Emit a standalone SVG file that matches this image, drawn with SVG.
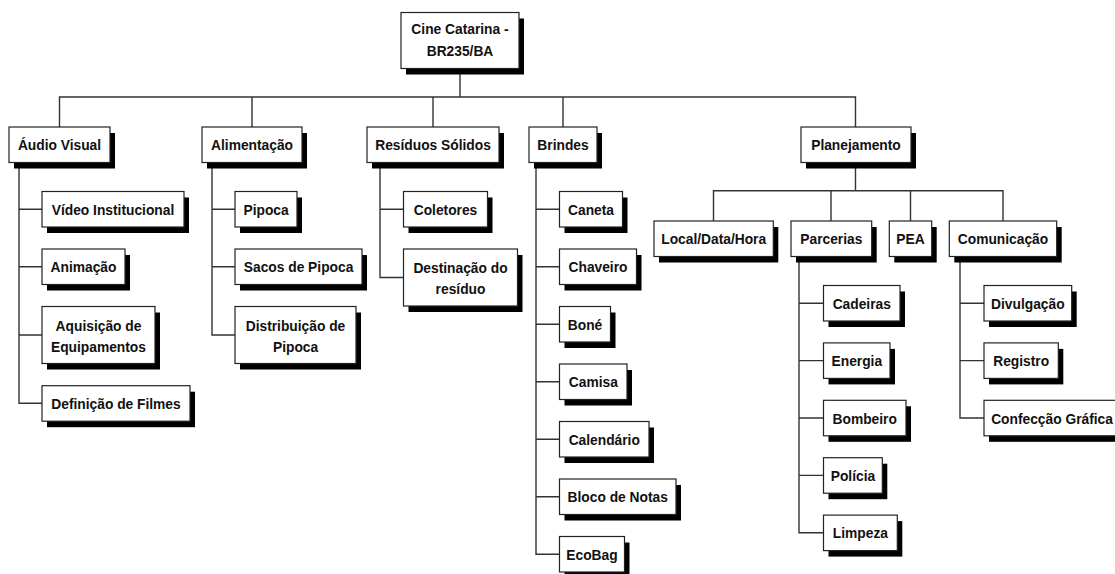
<svg xmlns="http://www.w3.org/2000/svg" width="1115" height="574" viewBox="0 0 1115 574">
<style>
.sh{fill:#000}
.box{fill:#fff;stroke:#222;stroke-width:1.2}
.t{font-family:"Liberation Sans",Arial,sans-serif;font-weight:bold;font-size:15.5px;fill:#111;text-anchor:middle;transform:scaleX(0.89);transform-box:fill-box;transform-origin:center}
.c{fill:none;stroke:#333;stroke-width:1.4}
</style>
<rect width="1115" height="574" fill="#fff"/>
<g id="connectors" class="c">
<path d="M460 68.5V97M59.5 127V97H855.5V127M252 97V127M433 97V127M563 97V127"/>
<path d="M19 162.5V403.2H42M19 209.2H42M19 266.7H42M19 335H42"/>
<path d="M212 162.5V335H235M212 209.2H235M212 266.7H235"/>
<path d="M380 162.5V277.5H403.5M380 209.2H403.5"/>
<path d="M536 162.5V554.2H559.5M536 209.2H559.5M536 266.7H559.5M536 324.2H559.5M536 381.7H559.5M536 439.2H559.5M536 496.7H559.5"/>
<path d="M855.5 162.5V190.7M713.5 221V190.7H1003V221M831 190.7V221M910.5 190.7V221"/>
<path d="M799 256.5V532.8H823.5M799 303.2H823.5M799 360.6H823.5M799 418H823.5M799 475.4H823.5"/>
<path d="M960 256.5V418H984M960 303.2H984M960 360.6H984"/>
</g>
<g id="root"><rect class="sh" x="406" y="18.5" width="118" height="56"/><rect class="box" x="401" y="12.5" width="118" height="56"/><text class="t" x="460" y="34.5">Cine Catarina -</text><text class="t" x="460" y="56">BR235/BA</text></g>
<g id="audio-visual"><rect class="sh" x="14" y="133" width="101" height="35.5"/><rect class="box" x="9" y="127" width="101" height="35.5"/><text class="t" x="59.5" y="150.3">Áudio Visual</text></g>
<g id="alimentacao"><rect class="sh" x="207" y="133" width="100" height="35.5"/><rect class="box" x="202" y="127" width="100" height="35.5"/><text class="t" x="252" y="150.3">Alimentação</text></g>
<g id="residuos"><rect class="sh" x="372" y="133" width="132" height="35.5"/><rect class="box" x="367" y="127" width="132" height="35.5"/><text class="t" x="433" y="150.3">Resíduos Sólidos</text></g>
<g id="brindes"><rect class="sh" x="534" y="133" width="68" height="35.5"/><rect class="box" x="529" y="127" width="68" height="35.5"/><text class="t" x="563" y="150.3">Brindes</text></g>
<g id="planejamento"><rect class="sh" x="806" y="133" width="110" height="35.5"/><rect class="box" x="801" y="127" width="110" height="35.5"/><text class="t" x="856" y="150.3">Planejamento</text></g>
<g id="video"><rect class="sh" x="47" y="197.5" width="142" height="35.5"/><rect class="box" x="42" y="191.5" width="142" height="35.5"/><text class="t" x="113" y="214.8">Vídeo Institucional</text></g>
<g id="animacao"><rect class="sh" x="47" y="255" width="83" height="35.5"/><rect class="box" x="42" y="249" width="83" height="35.5"/><text class="t" x="83.5" y="272.3">Animação</text></g>
<g id="aquisicao"><rect class="sh" x="47" y="312.5" width="113" height="57"/><rect class="box" x="42" y="306.5" width="113" height="57"/><text class="t" x="98.5" y="330.7">Aquisição de</text><text class="t" x="98.5" y="351.7">Equipamentos</text></g>
<g id="definicao"><rect class="sh" x="47" y="391.7" width="148" height="35.5"/><rect class="box" x="42" y="385.7" width="148" height="35.5"/><text class="t" x="116" y="409">Definição de Filmes</text></g>
<g id="pipoca"><rect class="sh" x="240" y="197.5" width="62" height="35.5"/><rect class="box" x="235" y="191.5" width="62" height="35.5"/><text class="t" x="266" y="214.8">Pipoca</text></g>
<g id="sacos"><rect class="sh" x="240" y="255" width="127" height="35.5"/><rect class="box" x="235" y="249" width="127" height="35.5"/><text class="t" x="298.5" y="272.3">Sacos de Pipoca</text></g>
<g id="distribuicao"><rect class="sh" x="240" y="312.5" width="121" height="57"/><rect class="box" x="235" y="306.5" width="121" height="57"/><text class="t" x="295.5" y="330.7">Distribuição de</text><text class="t" x="295.5" y="351.7">Pipoca</text></g>
<g id="coletores"><rect class="sh" x="408.5" y="197.5" width="84" height="35.5"/><rect class="box" x="403.5" y="191.5" width="84" height="35.5"/><text class="t" x="445.5" y="214.8">Coletores</text></g>
<g id="destinacao"><rect class="sh" x="408.5" y="255" width="114" height="57"/><rect class="box" x="403.5" y="249" width="114" height="57"/><text class="t" x="460.5" y="273.2">Destinação do</text><text class="t" x="460.5" y="294.2">resíduo</text></g>
<g id="caneta"><rect class="sh" x="564.5" y="197.5" width="63" height="35.5"/><rect class="box" x="559.5" y="191.5" width="63" height="35.5"/><text class="t" x="591" y="214.8">Caneta</text></g>
<g id="chaveiro"><rect class="sh" x="564.5" y="255" width="77" height="35.5"/><rect class="box" x="559.5" y="249" width="77" height="35.5"/><text class="t" x="598" y="272.3">Chaveiro</text></g>
<g id="bone"><rect class="sh" x="564.5" y="312.5" width="51" height="35.5"/><rect class="box" x="559.5" y="306.5" width="51" height="35.5"/><text class="t" x="585" y="329.8">Boné</text></g>
<g id="camisa"><rect class="sh" x="564.5" y="370" width="67.5" height="35.5"/><rect class="box" x="559.5" y="364" width="67.5" height="35.5"/><text class="t" x="593.25" y="387.3">Camisa</text></g>
<g id="calendario"><rect class="sh" x="564.5" y="427.5" width="89.5" height="35.5"/><rect class="box" x="559.5" y="421.5" width="89.5" height="35.5"/><text class="t" x="604.25" y="444.8">Calendário</text></g>
<g id="bloco"><rect class="sh" x="564.5" y="485" width="116.5" height="35.5"/><rect class="box" x="559.5" y="479" width="116.5" height="35.5"/><text class="t" x="617.75" y="502.3">Bloco de Notas</text></g>
<g id="ecobag"><rect class="sh" x="564.5" y="542.5" width="65" height="35.5"/><rect class="box" x="559.5" y="536.5" width="65" height="35.5"/><text class="t" x="592" y="559.8">EcoBag</text></g>
<g id="local"><rect class="sh" x="659" y="227" width="119.3" height="35.5"/><rect class="box" x="654" y="221" width="119.3" height="35.5"/><text class="t" x="713.65" y="244.3">Local/Data/Hora</text></g>
<g id="parcerias"><rect class="sh" x="796" y="227" width="80.7" height="35.5"/><rect class="box" x="791" y="221" width="80.7" height="35.5"/><text class="t" x="831.35" y="244.3">Parcerias</text></g>
<g id="pea"><rect class="sh" x="894.3" y="227" width="42.4" height="35.5"/><rect class="box" x="889.3" y="221" width="42.4" height="35.5"/><text class="t" x="910.5" y="244.3">PEA</text></g>
<g id="comunicacao"><rect class="sh" x="954.3" y="227" width="107.4" height="35.5"/><rect class="box" x="949.3" y="221" width="107.4" height="35.5"/><text class="t" x="1003" y="244.3">Comunicação</text></g>
<g id="cadeiras"><rect class="sh" x="828.5" y="291.5" width="76.5" height="35.5"/><rect class="box" x="823.5" y="285.5" width="76.5" height="35.5"/><text class="t" x="861.75" y="308.8">Cadeiras</text></g>
<g id="energia"><rect class="sh" x="828.5" y="348.9" width="66.5" height="35.5"/><rect class="box" x="823.5" y="342.9" width="66.5" height="35.5"/><text class="t" x="856.75" y="366.2">Energia</text></g>
<g id="bombeiro"><rect class="sh" x="828.5" y="406.3" width="82.5" height="35.5"/><rect class="box" x="823.5" y="400.3" width="82.5" height="35.5"/><text class="t" x="864.75" y="423.6">Bombeiro</text></g>
<g id="policia"><rect class="sh" x="828.5" y="463.7" width="58.8" height="35.5"/><rect class="box" x="823.5" y="457.7" width="58.8" height="35.5"/><text class="t" x="852.9" y="481">Polícia</text></g>
<g id="limpeza"><rect class="sh" x="828.5" y="521.1" width="73.8" height="35.5"/><rect class="box" x="823.5" y="515.1" width="73.8" height="35.5"/><text class="t" x="860.4" y="538.4">Limpeza</text></g>
<g id="divulgacao"><rect class="sh" x="989" y="291.5" width="87.7" height="35.5"/><rect class="box" x="984" y="285.5" width="87.7" height="35.5"/><text class="t" x="1027.85" y="308.8">Divulgação</text></g>
<g id="registro"><rect class="sh" x="989" y="348.9" width="74.3" height="35.5"/><rect class="box" x="984" y="342.9" width="74.3" height="35.5"/><text class="t" x="1021.15" y="366.2">Registro</text></g>
<g id="confeccao"><rect class="sh" x="989" y="406.3" width="136" height="35.5"/><rect class="box" x="984" y="400.3" width="136" height="35.5"/><text class="t" x="1052" y="423.6">Confecção Gráfica</text></g>
</svg>
